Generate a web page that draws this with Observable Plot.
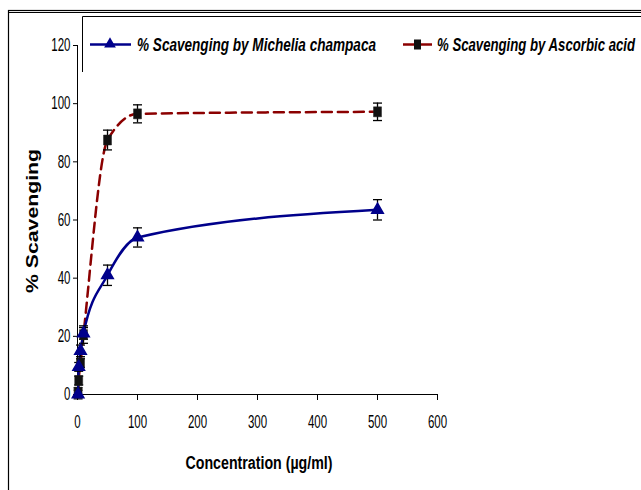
<!DOCTYPE html>
<html>
<head>
<meta charset="utf-8">
<script src="https://cdn.jsdelivr.net/npm/d3@7"></script>
<script src="https://cdn.jsdelivr.net/npm/@observablehq/plot@0.6"></script>
<style>
  html, body { margin: 0; padding: 0; background: #fff; }
  svg { display: block; }
</style>
</head>
<body>
<div id="chart"></div>
<script>
// ---- data ----
const concentration = [1, 2, 5, 10, 50, 100, 500];
const michelia = [0, 9.5, 15, 21, 41, 54, 63.5];
const micheliaErr = [1.5, 1.5, 2, 2, 3.5, 3.3, 3.5];
const ascorbic = [0.8, 4.8, 10.8, 20.6, 87.5, 96.5, 97.2];
const ascorbicErr = [1.5, 1.5, 1.5, 3, 3.4, 3.1, 3];
const xTicks = [0, 100, 200, 300, 400, 500, 600];
const yTicks = [0, 20, 40, 60, 80, 100, 120];
const seriesNames = ["% Scavenging by Michelia champaca", "% Scavenging by Ascorbic acid"];
const colors = ["#00008B", "#8B0000"];

const mData = concentration.map((c, i) => ({c, v: michelia[i], e: micheliaErr[i]}));
const aData = concentration.map((c, i) => ({c, v: ascorbic[i], e: ascorbicErr[i]}));

const capSymbol = {
  draw(ctx, size) {
    const r = Math.sqrt(size / Math.PI);
    ctx.moveTo(-r, 0); ctx.lineTo(r, 0);
  }
};
const rectSymbol = {
  draw(ctx, size) {
    const r = Math.sqrt(size / Math.PI);
    ctx.moveTo(-r * 0.8, -r); ctx.lineTo(r * 0.8, -r); ctx.lineTo(r * 0.8, r); ctx.lineTo(-r * 0.8, r); ctx.closePath();
  }
};

const FONT = "'Liberation Sans Narrow', 'Arial Narrow', 'Liberation Sans', Arial, sans-serif";

const chart = Plot.plot({
  width: 641,
  height: 490,
  marginLeft: 77,
  marginRight: 204,
  marginTop: 45,
  marginBottom: 96,
  style: {fontFamily: FONT, fontSize: "18px", color: "#000", background: "#fff"},
  x: {domain: [0, 600]},
  y: {domain: [0, 120]},
  marks: [
    Plot.axisY({ticks: yTicks, tickSize: 4, tickPadding: 3, label: null, fontSize: 18}),
    Plot.axisX({ticks: xTicks, tickSize: 6, tickPadding: 15, label: null, fontSize: 18}),
    Plot.ruleX([0], {stroke: "#000", strokeWidth: 1}),
    Plot.ruleY([0], {stroke: "#000", strokeWidth: 1}),
    // lines
    Plot.line(aData, {x: "c", y: "v", stroke: colors[1], strokeWidth: 2.5, strokeDasharray: "10,6", curve: "monotone-x"}),
    Plot.line(mData, {x: "c", y: "v", stroke: colors[0], strokeWidth: 2.5, curve: "monotone-x"}),
    // error bars
    Plot.ruleX(mData, {x: "c", y1: d => d.v - d.e, y2: d => d.v + d.e, stroke: "#000", strokeWidth: 1.3}),
    Plot.ruleX(aData, {x: "c", y1: d => d.v - d.e, y2: d => d.v + d.e, stroke: "#000", strokeWidth: 1.3}),
    Plot.dot(mData.concat(aData).flatMap(d => [{c: d.c, y: d.v - d.e}, {c: d.c, y: d.v + d.e}]),
      {x: "c", y: "y", symbol: capSymbol, r: 4.5, stroke: "#000", strokeWidth: 1.3, fill: "none"}),
    // markers
    Plot.dot(aData, {x: "c", y: "v", symbol: rectSymbol, r: 5, fill: "#111", stroke: "#222", strokeWidth: 0.5}),
    Plot.dot(mData, {x: "c", y: "v", symbol: "triangle", r: 4.3, fill: colors[0], stroke: colors[0]})
  ]
});

document.getElementById("chart").appendChild(chart);

const svg = d3.select(chart);
svg.style("overflow", "hidden");

// condense tick labels like the reference
svg.selectAll("g[aria-label='x-axis tick label'] text, g[aria-label='y-axis tick label'] text").each(function() {
  const n = this.textContent.length;
  d3.select(this).attr("textLength", n * 6.4).attr("lengthAdjust", "spacingAndGlyphs");
});

// ---- decorations: frame, titles, legend ----
svg.append("rect").attr("x", 8.5).attr("y", 10.5).attr("width", 700).attr("height", 600)
  .attr("fill", "none").attr("stroke", "#000").attr("stroke-width", 1.2);
svg.append("line").attr("x1", 8).attr("x2", 641).attr("y1", 12.5).attr("y2", 12.5)
  .attr("stroke", "#000").attr("stroke-width", 1);

// axis titles
svg.append("text").text("Concentration (µg/ml)")
  .attr("x", 259).attr("y", 469).attr("text-anchor", "middle")
  .attr("font-family", FONT).attr("font-weight", "bold").attr("font-size", 18)
  .attr("textLength", 147).attr("lengthAdjust", "spacingAndGlyphs");
svg.append("text").text("% Scavenging")
  .attr("transform", "translate(38,221) rotate(-90)").attr("text-anchor", "middle")
  .attr("font-family", "'Liberation Sans', Arial, sans-serif").attr("font-weight", "bold").attr("font-size", 16)
  .attr("textLength", 144).attr("lengthAdjust", "spacingAndGlyphs");

// legend box
svg.append("path").attr("d", "M82.5,72 V16.5 H700").attr("fill", "none").attr("stroke", "#000").attr("stroke-width", 1);

const lg = svg.append("g").attr("font-family", FONT).attr("font-weight", "bold").attr("font-style", "italic")
  .attr("font-size", 18).attr("text-anchor", "start");
// Michelia entry
lg.append("line").attr("x1", 90).attr("x2", 131).attr("y1", 44.5).attr("y2", 44.5).attr("stroke", colors[0]).attr("stroke-width", 2.5);
lg.append("path").attr("d", d3.symbol(d3.symbolTriangle, 60)()).attr("transform", "translate(110,44)").attr("fill", colors[0]);
lg.append("text").text(seriesNames[0]).attr("x", 137).attr("y", 51).attr("text-anchor", "start")
  .attr("textLength", 239).attr("lengthAdjust", "spacingAndGlyphs");
// Ascorbic entry
lg.append("line").attr("x1", 403).attr("x2", 432).attr("y1", 44.5).attr("y2", 44.5).attr("stroke", colors[1]).attr("stroke-width", 2.5);
lg.append("rect").attr("x", 414).attr("y", 39.5).attr("width", 7).attr("height", 10).attr("fill", "#111");
lg.append("text").text(seriesNames[1]).attr("x", 437).attr("y", 51).attr("text-anchor", "start")
  .attr("textLength", 198).attr("lengthAdjust", "spacingAndGlyphs");
</script>
</body>
</html>
